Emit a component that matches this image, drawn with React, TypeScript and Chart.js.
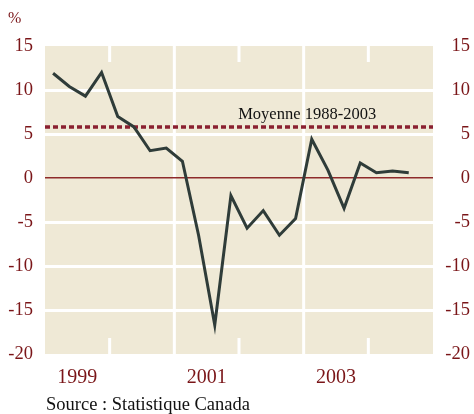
import { useEffect, useRef } from "react";
import { Chart, registerables } from "chart.js";

Chart.register(...registerables);

// Quarterly series, 1999 Q1 -> 2004 Q3 (annualised %)
const quarters = [
  "1999T1", "1999T2", "1999T3", "1999T4",
  "2000T1", "2000T2", "2000T3", "2000T4",
  "2001T1", "2001T2", "2001T3", "2001T4",
  "2002T1", "2002T2", "2002T3", "2002T4",
  "2003T1", "2003T2", "2003T3", "2003T4",
  "2004T1", "2004T2", "2004T3",
];
const growth = [
  11.9, 10.4, 9.3, 12.0,
  7.0, 5.8, 3.1, 3.4,
  1.9, -6.5, -16.7, -2.0,
  -5.7, -3.7, -6.5, -4.6,
  4.4, 0.9, -3.45, 1.7,
  0.6, 0.8, 0.6,
];
const averageLabel = "Moyenne 1988-2003";
const averageValue = 5.8;
const firstYear = 1999;
const lastYear = 2004;
const yearLabels = [1999, 2001, 2003];
const fullGridYears = [2001, 2003];
const shortTickYears = [2000, 2002, 2004];
const yTicks = [15, 10, 5, 0, -5, -10, -15, -20];
const unitLabel = "%";
const sourceLabel = "Source : Statistique Canada";

const RED = "#7a1518";
const FONT = "'Liberation Serif', serif";

const qPos = (year: number) => (year - firstYear) * 4;

export default function App() {
  const ref = useRef<HTMLCanvasElement | null>(null);

  useEffect(() => {
    if (!ref.current) return;
    const decor = {
      id: "decor",
      beforeDraw(chart: any) {
        const { ctx, chartArea } = chart;
        const { left, right, top, bottom } = chartArea;
        const xs = chart.scales.x;
        ctx.save();
        ctx.fillStyle = "#efe9d6";
        ctx.fillRect(left, top, right - left, bottom - top);
        ctx.strokeStyle = "#ffffff";
        ctx.lineWidth = 3;
        fullGridYears.forEach((y) => {
          const px = xs.getPixelForValue(qPos(y));
          ctx.beginPath();
          ctx.moveTo(px, top);
          ctx.lineTo(px, bottom);
          ctx.stroke();
        });
        shortTickYears.forEach((y) => {
          const px = xs.getPixelForValue(qPos(y));
          ctx.beginPath();
          ctx.moveTo(px, top);
          ctx.lineTo(px, top + 16);
          ctx.moveTo(px, bottom - 16);
          ctx.lineTo(px, bottom);
          ctx.stroke();
        });
        ctx.restore();
      },
      afterDraw(chart: any) {
        const { ctx } = chart;
        const ys = chart.scales.y;
        const xs = chart.scales.x;
        ctx.save();
        ctx.fillStyle = "#111111";
        ctx.font = `16.5px ${FONT}`;
        ctx.textAlign = "left";
        ctx.textBaseline = "alphabetic";
        ctx.fillText(averageLabel, xs.getPixelForValue(11.95), ys.getPixelForValue(averageValue) - 8);
        ctx.fillStyle = RED;
        ctx.font = `16px ${FONT}`;
        ctx.fillText(unitLabel, 8, 23);
        ctx.fillStyle = "#111111";
        ctx.font = `18.5px ${FONT}`;
        ctx.fillText(sourceLabel, 46, 410);
        ctx.restore();
      },
    };

    const chart = new Chart(ref.current, {
      type: "line",
      data: {
        datasets: [
          {
            label: "Croissance",
            data: growth.map((v, i) => ({ x: i + 0.5, y: v })),
            borderColor: "#2f3c39",
            borderWidth: 3,
            pointRadius: 0,
            tension: 0,
            borderJoinStyle: "miter",
            fill: false,
          },
          {
            label: averageLabel,
            data: [
              { x: 0, y: averageValue },
              { x: (lastYear - firstYear + 1) * 4, y: averageValue },
            ],
            borderColor: "#8a2030",
            borderWidth: 3.5,
            borderDash: [5, 3],
            pointRadius: 0,
            fill: false,
          },
        ],
      },
      options: {
        responsive: false,
        animation: false,
        layout: { padding: { left: 0, right: 4, top: 46, bottom: 0 } },
        plugins: { legend: { display: false }, tooltip: { enabled: false } },
        scales: {
          x: {
            type: "linear",
            min: 0,
            max: (lastYear - firstYear + 1) * 4,
            afterBuildTicks: (scale: any) => {
              scale.ticks = yearLabels.map((y) => ({ value: qPos(y) + 2 }));
            },
            afterFit: (scale: any) => {
              scale.height = 60;
            },
            grid: { display: false },
            border: { display: false },
            ticks: {
              autoSkip: false,
              maxRotation: 0,
              padding: 4,
              color: RED,
              font: { family: FONT, size: 20 },
              callback: (v: any) => String(firstYear + Math.floor(Number(v) / 4)),
            },
          },
          y: {
            position: "left",
            min: -20,
            max: 15,
            afterBuildTicks: (scale: any) => {
              scale.ticks = yTicks.map((v) => ({ value: v }));
            },
            afterFit: (scale: any) => {
              scale.width = 45;
            },
            border: { display: false },
            grid: {
              drawTicks: false,
              color: (c: any) =>
                c.tick && c.tick.value === 0
                  ? "#8e2a2a"
                  : c.tick && (c.tick.value === 15 || c.tick.value === -20)
                  ? "rgba(0,0,0,0)"
                  : "#ffffff",
              lineWidth: (c: any) => (c.tick && c.tick.value === 0 ? 1.5 : 3),
            },
            ticks: {
              padding: 12,
              color: RED,
              font: { family: FONT, size: 18.5 },
            },
          },
          y2: {
            position: "right",
            min: -20,
            max: 15,
            afterBuildTicks: (scale: any) => {
              scale.ticks = yTicks.map((v) => ({ value: v }));
            },
            afterFit: (scale: any) => {
              scale.width = 37;
            },
            border: { display: false },
            grid: { display: false, drawTicks: false },
            ticks: {
              crossAlign: "far",
              color: RED,
              font: { family: FONT, size: 18.5 },
            },
          },
        },
      },
      plugins: [decor],
    } as any);

    return () => chart.destroy();
  }, []);

  return (
    <canvas
      ref={ref}
      width={474}
      height={414}
      style={{ position: "absolute", left: 0, top: 0, display: "block" }}
    />
  );
}
